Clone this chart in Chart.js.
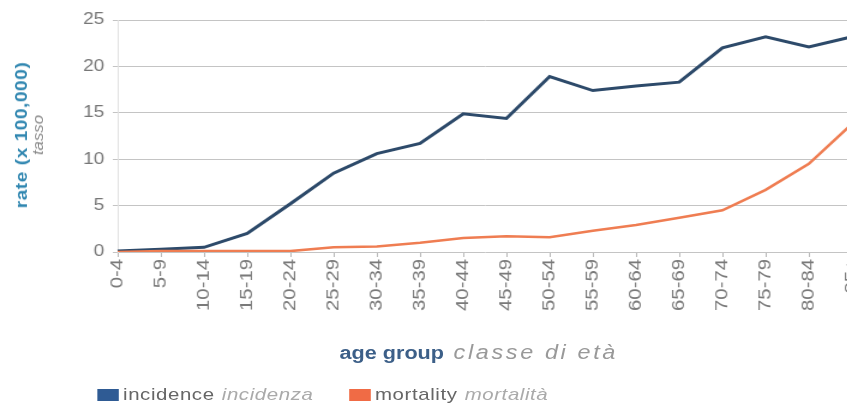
<!DOCTYPE html>
<html>
<head>
<meta charset="utf-8">
<script src="https://cdn.jsdelivr.net/npm/chart.js@4.4.1/dist/chart.umd.min.js"></script>
<style>
  html, body { margin:0; padding:0; background:#fff; overflow:hidden; }
  body { width:847px; height:405px; position:relative; font-family:"Liberation Sans", Arial, sans-serif; }
  #wrap { position:absolute; left:0; top:0; width:706px; height:405px; transform:scaleX(1.2); transform-origin:0 0; overflow:hidden; }
  #cv { position:absolute; left:0; top:0; }
  .ytitle { position:absolute; left:24.6px; top:135px; transform:translate(-50%,-50%) rotate(-90deg) scale(1.12, 0.85); white-space:nowrap; text-align:center; line-height:14.7px; }
  .ytitle b { color:#2f86b0; font-size:17px; letter-spacing:0.5px; display:block; }
  .ytitle i { color:#8a8a8a; font-size:15px; display:block; }
  .xtitle { position:absolute; top:341px; left:283px; white-space:nowrap; font-size:18px; }
  .xtitle b { color:#3c5f88; }
  .xtitle i { color:#999; margin-left:8px; letter-spacing:2.2px; font-size:19.5px; }
  .legend { position:absolute; top:385px; white-space:nowrap; font-size:17px; letter-spacing:0.5px; color:#666; }
  .legend span.sw { display:inline-block; width:17.5px; height:12px; vertical-align:-1px; margin-right:4px; }
  .legend i { color:#aaa; margin-left:6px; }
</style>
</head>
<body>
<div id="wrap">
  <canvas id="cv" width="735" height="405"></canvas>
  <div class="ytitle"><b>rate (x 100,000)</b><i>tasso</i></div>
  <div class="xtitle"><b>age group</b><i>classe di età</i></div>
  <div class="legend" style="left:81px"><span class="sw" style="background:#2f5b94"></span>incidence<i>incidenza</i></div>
  <div class="legend" style="left:291px"><span class="sw" style="background:#f06b45"></span>mortality<i>mortalità</i></div>
</div>
<script>
const ageGroups = ['0-4','5-9','10-14','15-19','20-24','25-29','30-34','35-39','40-44','45-49','50-54','55-59','60-64','65-69','70-74','75-79','80-84','85+'];
const incidence = [0.1,0.3,0.5,2.0,5.2,8.5,10.6,11.7,14.9,14.4,18.9,17.4,17.9,18.3,22.0,23.2,22.1,23.2];
const mortality = [0.0,0.1,0.1,0.1,0.1,0.5,0.6,1.0,1.5,1.7,1.6,2.3,2.9,3.7,4.5,6.7,9.5,13.8];
const yTicks = [0,5,10,15,20,25];

// draws the category labels (condensed, rotated) at the positions given by the x scale
const xLabelPlugin = {
  id: 'xLabels',
  afterDraw(chart) {
    const s = chart.scales.x, ctx = chart.ctx;
    ctx.save();
    ctx.fillStyle = '#7a7a7a';
    ctx.font = '14px "Liberation Sans", Arial, sans-serif';
    ctx.textAlign = 'right';
    ctx.textBaseline = 'middle';
    s.ticks.forEach((t, i) => {
      const x = s.getPixelForTick(i);
      ctx.save();
      ctx.translate(x, s.top + 7);
      ctx.rotate(-Math.PI / 2);
      ctx.scale(1.45, 1);
      ctx.fillText(s.getLabelForValue(t.value), 0, 0);
      ctx.restore();
    });
    ctx.restore();
  }
};

new Chart(document.getElementById('cv'), {
  type: 'line',
  data: {
    labels: ageGroups,
    datasets: [
      { label: 'mortality', data: mortality, borderColor: '#ef7d52', borderWidth: 2.5, pointRadius: 0, tension: 0, fill: false },
      { label: 'incidence', data: incidence, borderColor: '#2d4a6a', borderWidth: 3, pointRadius: 0, tension: 0, fill: false }
    ]
  },
  plugins: [xLabelPlugin],
  options: {
    responsive: false,
    animation: false,
    devicePixelRatio: 1,
    layout: { padding: { left: 0, right: 25, top: 20, bottom: 73 } },
    plugins: { legend: { display: false }, tooltip: { enabled: false } },
    scales: {
      x: {
        type: 'category',
        offset: false,
        grid: { drawOnChartArea: false, drawTicks: true, tickLength: 5, color: '#b8b8b8' },
        border: { display: false },
        ticks: { autoSkip: false, display: false },
        afterFit: s => { s.height = 80; }
      },
      y: {
        min: 0, max: 25,
        afterBuildTicks: s => { s.ticks = yTicks.map(v => ({ value: v })); },
        grid: { color: '#c4c4c4', lineWidth: 1, tickLength: 4, drawTicks: true },
        border: { display: true, color: '#e2e2e2' },
        ticks: { color: '#777', padding: 7, font: { family: 'Liberation Sans', size: 16 } },
        afterFit: s => { s.width = 98; }
      }
    }
  }
});
</script>
</body>
</html>
